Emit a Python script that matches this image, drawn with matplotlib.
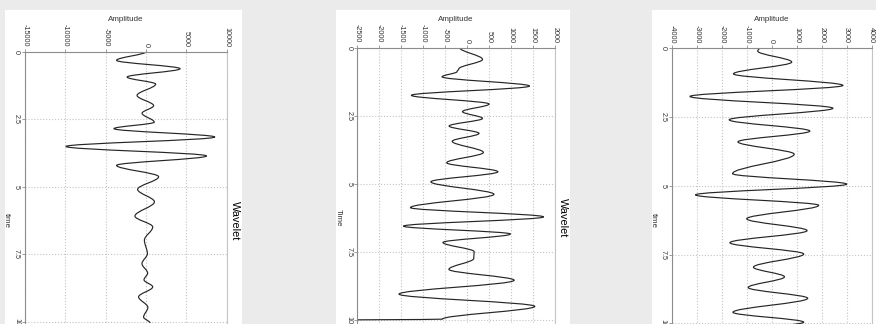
import numpy as np
import matplotlib.pyplot as plt
from matplotlib.patches import Rectangle, PathPatch
from matplotlib.path import Path
from matplotlib.ticker import FuncFormatter

plt.rcParams['font.family'] = ['Liberation Sans', 'DejaVu Sans']
plt.rcParams['axes.unicode_minus'] = False

# panel 1 : time / amplitude picked at the turning points
time_1 = [0, 0.32, 0.63, 0.94, 1.2, 1.62, 2.0, 2.28, 2.61, 2.85, 3.16, 3.51,
          3.86, 4.21, 4.63, 5.1, 5.56, 6.09, 6.49, 6.98, 7.48, 7.85, 8.2,
          8.45, 8.71, 9.08, 9.47, 9.83, 10.05]
amp_1 = [0, -3650, 4220, -2340, 1190, -1110, 940, -490, 1020, -3980, 8520,
         -9920, 7500, -3650, 1560, -1040, 1040, -1375, 830, -200, 170, -500,
         200, -250, 830, -920, 230, -300, 500]

# panel 2
time_2 = [0, 0.43, 0.78, 0.88, 1.07, 1.41, 1.75, 2.07, 2.35, 2.6, 2.88, 3.15,
          3.44, 3.85, 4.23, 4.56, 4.93, 5.39, 5.88, 6.22, 6.56, 6.85, 7.16,
          7.5, 7.75, 8.15, 8.55, 9.06, 9.51, 9.98, 10.03]
amp_2 = [-170, 350, -190, -230, -570, 1420, -1270, 500, -105, 350, -410, 270,
         -340, 370, -465, 700, -825, 610, -1290, 1740, -1450, 985, -550, 160,
         150, -415, 1070, -1550, 1540, -560, -4500]

# panel 3
time_3 = [0, 0.1, 0.5, 0.93, 1.35, 1.75, 2.18, 2.6, 3.01, 3.4, 3.85, 4.56,
          4.94, 5.33, 5.71, 6.2, 6.63, 7.07, 7.48, 7.96, 8.31, 8.7, 9.09,
          9.6, 9.96, 10.2]
amp_3 = [-500, -560, 800, -1530, 2850, -3270, 2450, -1700, 1525, -1350, 900,
         -1565, 3000, -3050, 1880, -1000, 1415, -1670, 1280, -730, 510, -940,
         1440, -1550, 1280, -300]

amp_ticks_1 = [-15000, -10000, -5000, 0, 5000, 10000]
amp_ticks_2 = [-2500, -2000, -1500, -1000, -500, 0, 500, 1000, 1500, 2000]
amp_ticks_3 = [-4000, -3000, -2000, -1000, 0, 1000, 2000, 3000, 4000]
time_ticks = [0, 2.5, 5, 7.5, 10, 12.5]

W, H = 876, 324
fig = plt.figure(figsize=(W / 100, H / 100), dpi=100)
fig.patch.set_facecolor('#ebebeb')


def px_rect(x0, x1, y_top, height):
    # pixel box (y from top) -> figure fractions
    return [x0 / W, 1 - (y_top + height) / H, (x1 - x0) / W, height / H]


def smooth_path(a, t, k=0.34):
    # smoothed line through the turning points: flat tangent at each one
    verts = [(a[0], t[0])]
    codes = [Path.MOVETO]
    for i in range(1, len(t)):
        dt = t[i] - t[i - 1]
        verts += [(a[i - 1], t[i - 1] + k * dt), (a[i], t[i] - k * dt),
                  (a[i], t[i])]
        codes += [Path.CURVE4] * 3
    return Path(verts, codes)


def panel(rect, bg, t, a, xticks, tlabel):
    fig.patches.append(Rectangle((bg[0] / W, -0.2), (bg[1] - bg[0]) / W,
                                 1.2 - 10 / H, transform=fig.transFigure,
                                 facecolor='white', edgecolor='none',
                                 zorder=-10))
    ax = fig.add_axes(rect)
    ax.set_facecolor('white')
    ax.add_patch(PathPatch(smooth_path(a, t), fill=False,
                           edgecolor='#262626', linewidth=0.85))

    ax.set_xlim(xticks[0], xticks[-1])
    ax.set_ylim(12.5, 0)
    ax.set_xticks(xticks)
    ax.set_yticks(time_ticks)
    ax.yaxis.set_major_formatter(FuncFormatter(lambda v, p: f'{v:g}'))
    ax.xaxis.tick_top()
    ax.xaxis.set_label_position('top')

    ax.grid(True, color='#c4c4c4', linestyle=':', linewidth=0.8)
    ax.set_axisbelow(True)
    for side in ['top', 'left']:
        ax.spines[side].set_color('#8c8c8c')
        ax.spines[side].set_linewidth(0.8)
    ax.spines['right'].set_color('#c4c4c4')
    ax.spines['right'].set_linewidth(0.8)
    ax.spines['bottom'].set_visible(False)

    ax.tick_params(axis='both', length=2, width=0.6, color='#8c8c8c',
                   labelsize=5.2, labelcolor='#333333', pad=1.5)
    for lb in ax.get_xticklabels():
        lb.set_rotation(270)
    for lb in ax.get_yticklabels():
        lb.set_rotation(270)
        lb.set_va('center')

    ax.set_xlabel('Amplitude', fontsize=5.8, color='#333333', labelpad=2.5)
    ax.set_ylabel(tlabel, fontsize=5.8, color='#333333', rotation=270,
                  labelpad=5, va='center')
    ax.annotate('Wavelet', xy=(1, 0.5), xycoords='axes fraction',
                xytext=(2, 0), textcoords='offset points', rotation=270,
                ha='left', va='center', fontsize=7.8, color='black')
    return ax


panel(px_rect(25, 226.7, 51.7, 27.0 * 12.5), (5, 242), time_1, amp_1,
      amp_ticks_1, 'time')
panel(px_rect(357.3, 555, 47.7, 27.2 * 12.5), (336, 570), time_2, amp_2,
      amp_ticks_2, 'Time')
panel(px_rect(671.7, 871.7, 48.3, 27.5 * 12.5), (652, 900), time_3, amp_3,
      amp_ticks_3, 'time')

fig.savefig('out.png', dpi=100, facecolor=fig.get_facecolor())
